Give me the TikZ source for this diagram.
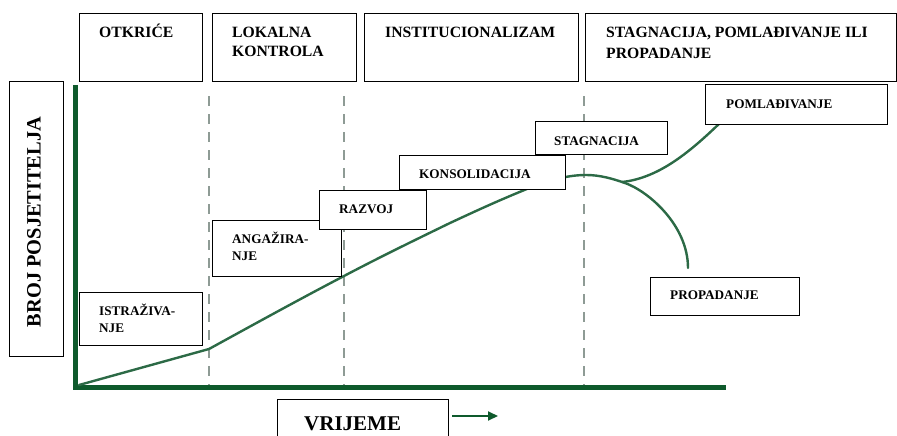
\documentclass[tikz,border=0pt]{standalone}
\usepackage{fontspec}
\setmainfont{Liberation Serif}
\usetikzlibrary{arrows.meta}
\definecolor{axisgreen}{HTML}{0E5A2C}
\definecolor{curvegreen}{HTML}{2C6A46}
\definecolor{dashgray}{HTML}{8E9B95}
\begin{document}
\begin{tikzpicture}[x=1pt,y=-1pt,
  box/.style={draw=black, line width=1.1pt, fill=white, inner sep=0pt, anchor=north west},
  lbltop/.style={inner sep=0pt, anchor=base west, font=\fontsize{15.7}{19}\selectfont\bfseries},
  lblin/.style={inner sep=0pt, anchor=base west, font=\fontsize{13.2}{16}\selectfont\bfseries},
  axisline/.style={draw=axisgreen, line width=5pt},
  divider/.style={draw=dashgray, line width=2.2pt, dash pattern=on 10pt off 8pt},
  curveline/.style={draw=curvegreen, line width=2.4pt, line cap=round, line join=round},
  timearrow/.style={draw=axisgreen, line width=2pt, -{Triangle[length=10pt,width=9pt]}}
]
\useasboundingbox (0,0) rectangle (897,436);

% axes
\coordinate (ytop) at (75,85);
\coordinate (origin) at (75,387);
\coordinate (xend) at (726,387);
\draw[axisline] (ytop) -- (origin) -- (xend);

% dashed dividers
\coordinate (d1t) at (209,96);  \coordinate (d1b) at (209,385);
\coordinate (d2t) at (344,96);  \coordinate (d2b) at (344,385);
\coordinate (d3t) at (584,96);  \coordinate (d3b) at (584,385);
\draw[divider] (d1t) -- (d1b);
\draw[divider] (d2t) -- (d2b);
\draw[divider] (d3t) -- (d3b);

% life-cycle curve
\coordinate (c0) at (79,385);
\coordinate (c1) at (209,349);
\coordinate (c2) at (344,276);
\coordinate (c3) at (450,223);
\coordinate (c4) at (522,191);
\coordinate (peak) at (586,175);
\coordinate (fork) at (625,183);
\coordinate (decl) at (688,268);
\coordinate (split) at (622,182);
\coordinate (rejuv) at (722,121);
\draw[curveline] (c0) -- (c1)
  .. controls (260,321) and (300,299) .. (c2)
  .. controls (380,257) and (415,240) .. (c3)
  .. controls (480,209) and (500,200) .. (c4)
  .. controls (550,179) and (570,175) .. (peak)
  .. controls (600,175) and (612,178.5) .. (fork)
  .. controls (648,191) and (688,225) .. (decl);
\draw[curveline] (split) .. controls (660,178) and (692,150) .. (rejuv);

% time arrow
\coordinate (arrS) at (452,416);
\coordinate (arrE) at (498,416);
\draw[timearrow] (arrS) -- (arrE);

% top phase boxes
\node[box, minimum width=123pt, minimum height=68pt] (b1) at (79,13) {};
\node[box, minimum width=144pt, minimum height=68pt] (b2) at (212,13) {};
\node[box, minimum width=214pt, minimum height=68pt] (b3) at (364,13) {};
\node[box, minimum width=311pt, minimum height=68pt] (b4) at (585,13) {};
\node[lbltop] (t1) at (99,38) {OTKRIĆE};
\node[lbltop] (t2a) at (232,38) {LOKALNA};
\node[lbltop] (t2b) at (232,56.5) {KONTROLA};
\node[lbltop] (t3) at (385,38) {INSTITUCIONALIZAM};
\node[lbltop] (t4a) at (606,38) {STAGNACIJA, POMLAĐIVANJE ILI};
\node[lbltop] (t4b) at (606,59) {PROPADANJE};

% axis label boxes
\node[box, minimum width=54pt, minimum height=275pt] (by) at (9,81) {};
\node[inner sep=0pt, anchor=base, rotate=90, font=\fontsize{20.4}{24}\selectfont\bfseries] (ty) at (40.5,222) {BROJ POSJETITELJA};
\node[box, minimum width=171pt, minimum height=50pt] (bx) at (277,399) {};
\node[inner sep=0pt, anchor=base west, font=\fontsize{21}{24}\selectfont\bfseries] (tx) at (304,430) {VRIJEME};

% stage boxes
\node[box, minimum width=123pt, minimum height=53pt] (s1) at (79,292) {};
\node[lblin] (s1a) at (99,315) {ISTRAŽIVA-};
\node[lblin] (s1b) at (99,332) {NJE};
\node[box, minimum width=129pt, minimum height=56pt] (s2) at (212,220) {};
\node[lblin] (s2a) at (232,243) {ANGAŽIRA-};
\node[lblin] (s2b) at (232,260) {NJE};
\node[box, minimum width=107pt, minimum height=39pt] (s3) at (319,190) {};
\node[lblin] (s3a) at (339,213) {RAZVOJ};
\node[box, minimum width=166pt, minimum height=34pt] (s4) at (399,155) {};
\node[lblin] (s4a) at (419,178) {KONSOLIDACIJA};
\node[box, minimum width=132pt, minimum height=33pt] (s5) at (535,121) {};
\node[lblin] (s5a) at (554,145) {STAGNACIJA};
\node[box, minimum width=182pt, minimum height=40pt] (s6) at (705,84) {};
\node[lblin] (s6a) at (726,108) {POMLAĐIVANJE};
\node[box, minimum width=149pt, minimum height=38pt] (s7) at (650,277) {};
\node[lblin] (s7a) at (670,299) {PROPADANJE};
\end{tikzpicture}
\end{document}
